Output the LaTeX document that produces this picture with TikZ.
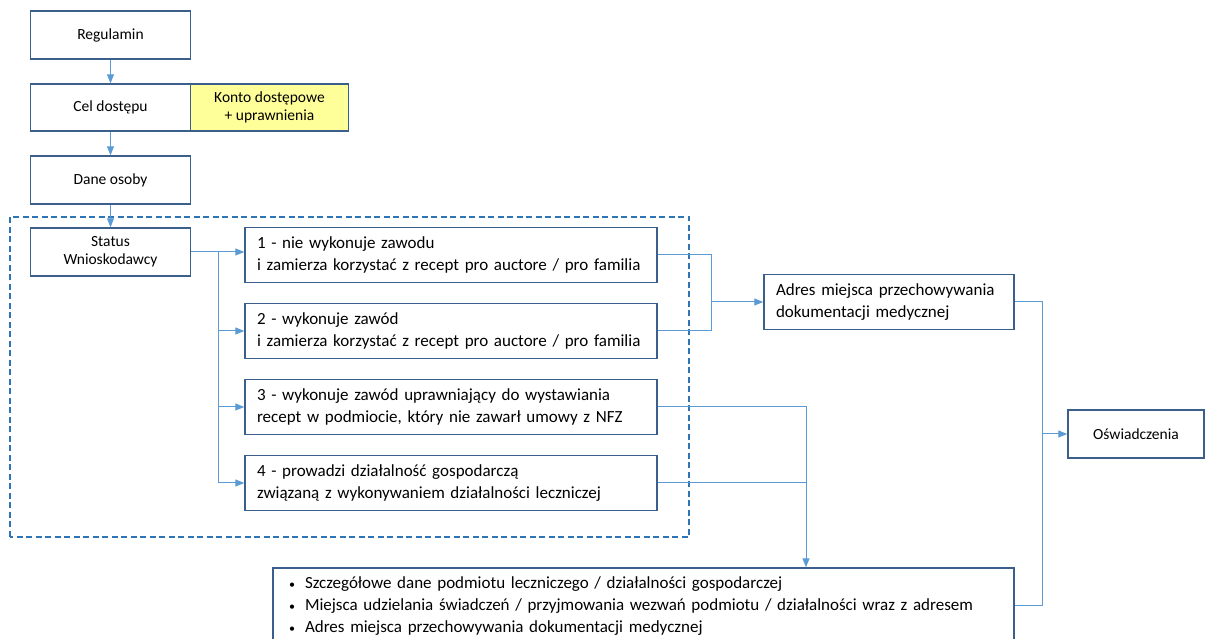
\documentclass[tikz,border=0pt]{standalone}
\usepackage{fontspec}
\setmainfont{Carlito}
\usetikzlibrary{arrows.meta, positioning}

\definecolor{boxline}{HTML}{3A5F8B}
\definecolor{linkblue}{HTML}{5B9BD5}
\definecolor{frameblue}{HTML}{2E75B6}
\definecolor{kontofill}{HTML}{FFFF99}

\newcommand{\bul}{\makebox[17pt][l]{\hspace{1pt}\fontsize{12}{12}\selectfont\textbullet}}

\begin{document}
\begin{tikzpicture}[x=1pt, y=1pt,
  box/.style={rectangle, draw=boxline, line width=1.4pt, minimum width=160pt, minimum height=48pt, inner sep=0pt, align=center, font=\fontsize{15.5}{18}\selectfont},
  optbox/.style={rectangle, draw=boxline, line width=1.4pt, minimum width=412pt, minimum height=55pt, inner xsep=12pt, text width=388pt, align=left, font=\fontsize{17}{22}\selectfont},
  link/.style={draw=linkblue, line width=1pt},
  conn/.style={link, -{Triangle[length=9pt, width=7pt]}}]

\useasboundingbox (0,0) rectangle (1206,639);
\clip (0,0) rectangle (1206,639);

\node[box] (reg) at (110.5,604) {Regulamin};
\node[box, below of=reg, node distance=72.5pt, minimum height=47pt] (cel) {Cel dostępu};
\node[box, right of=cel, node distance=159pt, minimum width=158pt, minimum height=47pt, fill=kontofill] (konto) {Konto dostępowe\\+ uprawnienia};
\node[box, below of=cel, node distance=72.5pt] (dane) {Dane osoby};
\node[box, below of=dane, node distance=72pt] (status) {Status\\Wnioskodawcy};

\node[optbox, right of=status, node distance=340.5pt, yshift=-3pt] (opt1) {1 - nie wykonuje zawodu\\i zamierza korzystać z recept pro auctore / pro familia};
\node[optbox, below of=opt1, node distance=76pt] (opt2) {2 - wykonuje zawód\\i zamierza korzystać z recept pro auctore / pro familia};
\node[optbox, below of=opt2, node distance=76pt] (opt3) {3 - wykonuje zawód uprawniający do wystawiania\\recept w podmiocie, który nie zawarł umowy z NFZ};
\node[optbox, below of=opt3, node distance=76pt] (opt4) {4 - prowadzi działalność gospodarczą\\związaną z wykonywaniem działalności leczniczej};

\node[optbox, minimum width=250pt, text width=226pt] (adres) at (889,337) {Adres miejsca przechowywania\\dokumentacji medycznej};
\node[box, minimum width=136pt] (oswiad) at (1136,205) {Oświadczenia};
\node[optbox, minimum width=741pt, text width=711pt, minimum height=76pt, inner xsep=15pt] (szczeg) at (643.5,33)
  {\bul Szczegółowe dane podmiotu leczniczego / działalności gospodarczej\\
   \bul Miejsca udzielania świadczeń / przyjmowania wezwań podmiotu / działalności wraz z adresem\\
   \bul Adres miejsca przechowywania dokumentacji medycznej};

% dashed frame round the four options
\draw[frameblue, line width=1.3pt, dash pattern=on 6pt off 3.5pt] (10,102) rectangle (689,422);

\coordinate (split) at (218,387);
\coordinate (m12) at (711,337);
\coordinate (m34) at (806,156);
\coordinate (m5) at (1042,205);

\draw[conn] (reg) -- (cel);
\draw[conn] (cel) -- (dane);
\draw[conn] (dane) -- (status);

\draw[conn] (status.east) -- (status.east -| opt1.west);
\draw[conn] (split) |- (opt2.west);
\draw[conn] (split) |- (opt3.west);
\draw[conn] (split) |- (opt4.west);

\draw[link] (opt1.east) -| (m12) |- (opt2.east);
\draw[conn] (m12) -- (adres.west);

\draw[link] (opt3.east) -| (m34);
\draw[link] (opt4.east) -- (m34);
\draw[conn] (m34) -- (m34 |- szczeg.north);

\draw[link] (adres.east) -| (m5);
\draw[link] (szczeg.east) -| (m5);
\draw[conn] (m5) -- (oswiad.west);

\end{tikzpicture}
\end{document}
